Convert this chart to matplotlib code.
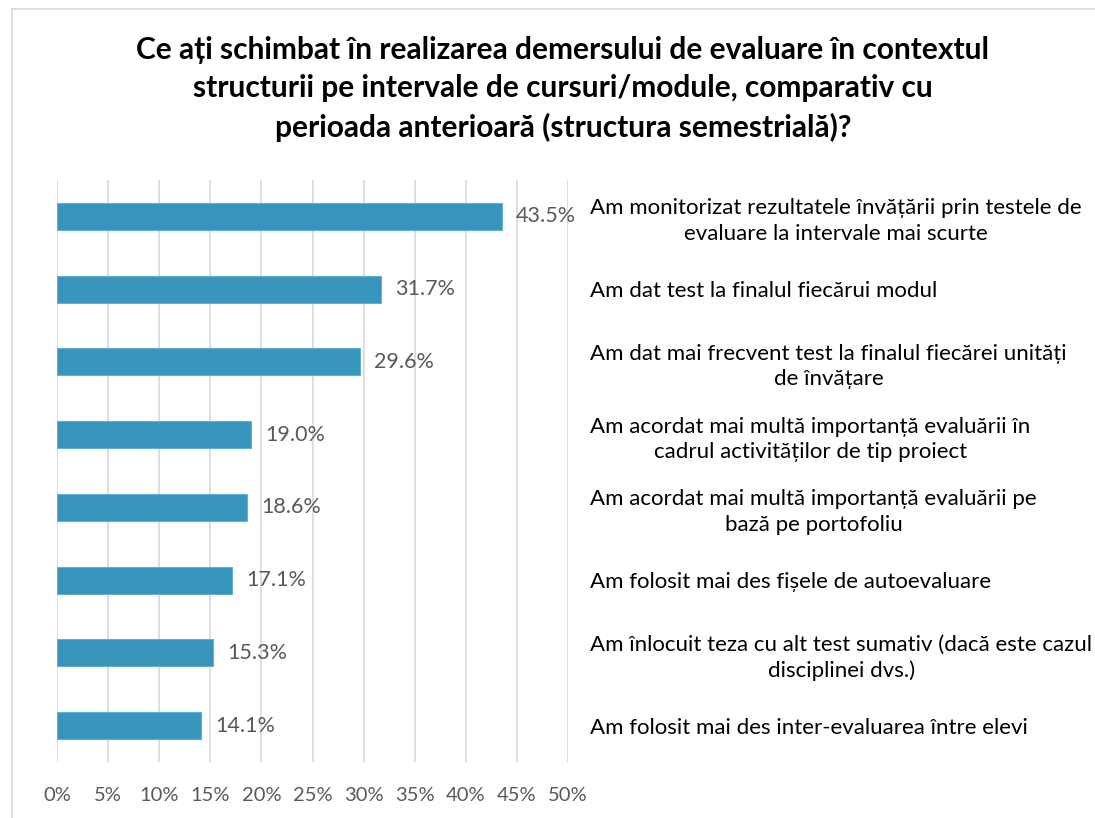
import numpy as np
import matplotlib.pyplot as plt
from matplotlib.lines import Line2D

plt.rcParams['font.family'] = ['Lato', 'DejaVu Sans']

# answers, top to bottom
labels = [
    'Am monitorizat rezultatele învățării prin testele de\nevaluare la intervale mai scurte',
    'Am dat test la finalul fiecărui modul',
    'Am dat mai frecvent test la finalul fiecărei unități\nde învățare',
    'Am acordat mai multă importanță evaluării în\ncadrul activităților de tip proiect',
    'Am acordat mai multă importanță evaluării pe\nbază pe portofoliu',
    'Am folosit mai des fișele de autoevaluare',
    'Am înlocuit teza cu alt test sumativ (dacă este cazul\ndisciplinei dvs.)',
    'Am folosit mai des inter-evaluarea între elevi',
]
values = [43.5, 31.7, 29.6, 19.0, 18.6, 17.1, 15.3, 14.1]
xticks = [0, 5, 10, 15, 20, 25, 30, 35, 40, 45, 50]

W, H = 1095, 818
fig = plt.figure(figsize=(W / 100, H / 100), dpi=100)
ax = fig.add_axes([57 / W, 1 - 762 / H, 511 / W, 582 / H])

y = np.arange(len(values))
ax.barh(y, values, height=0.37, color='#3795BC', edgecolor='#5FB0D2', linewidth=0.8, zorder=3)
for yi, v in zip(y, values):
    ax.text(v + 1.4, yi, f'{v:.1f}%', va='center', ha='left', fontsize=15.5, color='#595959')

ax.set_xlim(0, 50)
ax.set_ylim(len(values) - 0.5, -0.5)
ax.set_xticks(xticks)
ax.set_xticklabels([f'{t}%' for t in xticks], fontsize=14.5, color='#595959')
ax.tick_params(axis='x', length=0, pad=18)
ax.grid(axis='x', color='#D9D9D9', linewidth=1.2, zorder=0)
for s in ax.spines.values():
    s.set_visible(False)

ax.yaxis.tick_right()
ax.set_yticks(y)
ax.set_yticklabels(labels, fontsize=16, color='black', ha='left', multialignment='center',
                   linespacing=1.35)
ax.tick_params(axis='y', length=0, pad=16)

fig.text(0.514, 1 - 36 / H,
         'Ce ați schimbat în realizarea demersului de evaluare în contextul\n'
         'structurii pe intervale de cursuri/module, comparativ cu\n'
         'perioada anterioară (structura semestrială)?',
         ha='center', va='top', fontsize=21.5, fontweight='bold', linespacing=1.45)

# chart frame
fig.add_artist(Line2D([11.5 / W, 11.5 / W], [0, 1 - 9 / H], color='#D9D9D9', lw=1.2, transform=fig.transFigure))
fig.add_artist(Line2D([11.5 / W, 1], [1 - 9 / H, 1 - 9 / H], color='#D9D9D9', lw=1.2, transform=fig.transFigure))

fig.savefig('out.png', dpi=100, facecolor='white')
